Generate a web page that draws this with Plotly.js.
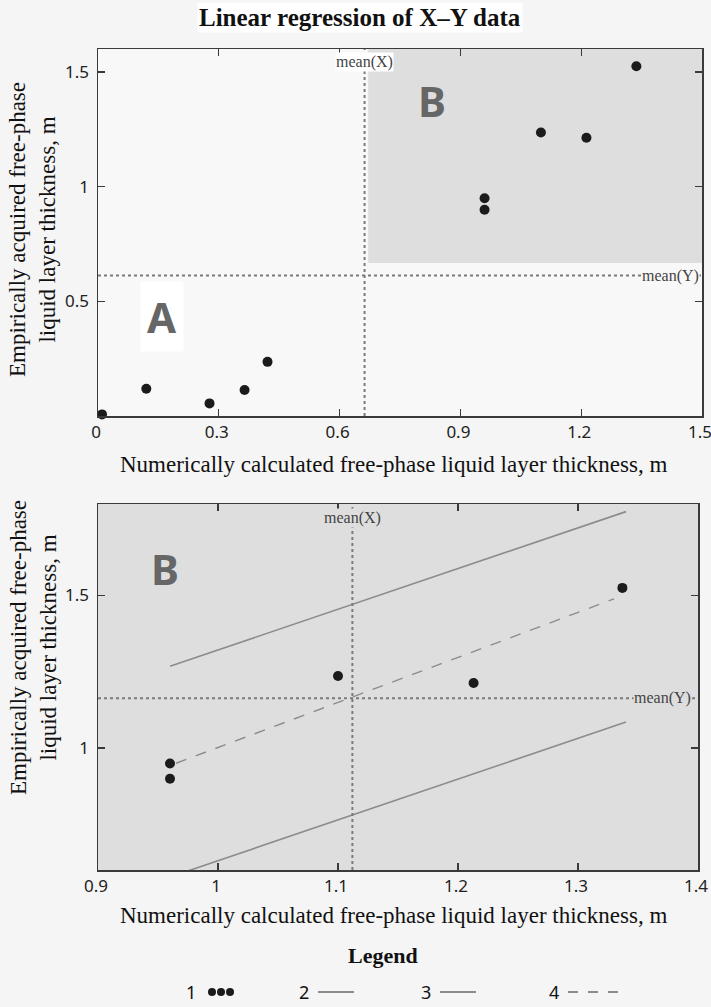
<!DOCTYPE html>
<html>
<head>
<meta charset="utf-8">
<script src="https://cdn.plot.ly/plotly-3.0.1.min.js"></script>
<style>html,body{margin:0;padding:0;background:#f5f5f5;}#chart{width:711px;height:1007px;}</style>
</head>
<body>
<div id="chart"></div>
<script>
// ---- Data ----
// Top panel: all observations
const allX = [0.01, 0.12, 0.277, 0.364, 0.421, 0.96, 0.96, 1.10, 1.213, 1.337];
const allY = [0.007, 0.119, 0.055, 0.113, 0.236, 0.949, 0.899, 1.236, 1.213, 1.525];
const topMeanX = 0.662;
const topMeanY = 0.612;
const regionBx = [0.671, 1.5];
const regionBy = [0.667, 1.6];

// Bottom panel: group B
const bX = [0.96, 0.96, 1.10, 1.213, 1.337];
const bY = [0.949, 0.899, 1.236, 1.213, 1.525];
const bMeanX = 1.112;
const bMeanY = 1.163;
const lineX = [0.96, 1.34];
const upperY = [1.268, 1.775];
const lowerY = [0.577, 1.085];
const fitX = [0.965, 1.33];
const fitY = [0.95, 1.489];

// Ticks
const topXTicks = [0, 0.3, 0.6, 0.9, 1.2, 1.5];
const topXLabels = ['0', '0.3', '0.6', '0.9', '1.2', '1.5'];
const topYTicks = [0.5, 1, 1.5];
const topYLabels = ['0.5', '1', '1.5'];
const botXTicks = [0.9, 1, 1.1, 1.2, 1.3, 1.4];
const botXLabels = ['0.9', '1', '1.1', '1.2', '1.3', '1.4'];
const botYTicks = [1, 1.5];
const botYLabels = ['1', '1.5'];

const titleText = 'Linear regression of X–Y data';
const xTitle = 'Numerically calculated free-phase liquid layer thickness, m';
const yTitle = 'Empirically acquired free-phase<br>liquid layer thickness, m';
const legendTitle = 'Legend';
const legendLabels = ['1', '2', '3', '4'];

// ---- Layout helpers ----
const W = 711, H = 1007;
const px = v => v / W;
const py = v => 1 - v / H;

const serif = 'Liberation Serif, Times New Roman, serif';
const sans = 'Noto Sans, Open Sans, sans-serif';
const lineGray = '#8c8c8c';
const dotCol = '#1b1b1b';

const traces = [
  {x: allX, y: allY, type: 'scatter', mode: 'markers', xaxis: 'x', yaxis: 'y',
   marker: {color: dotCol, size: 10}, cliponaxis: false, hoverinfo: 'x+y'},
  {x: lineX, y: upperY, type: 'scatter', mode: 'lines', xaxis: 'x2', yaxis: 'y2',
   line: {color: lineGray, width: 1.6}},
  {x: lineX, y: lowerY, type: 'scatter', mode: 'lines', xaxis: 'x2', yaxis: 'y2',
   line: {color: lineGray, width: 1.6}},
  {x: fitX, y: fitY, type: 'scatter', mode: 'lines', xaxis: 'x2', yaxis: 'y2',
   line: {color: lineGray, width: 1.4, dash: '11px,10px'}},
  {x: bX, y: bY, type: 'scatter', mode: 'markers', xaxis: 'x2', yaxis: 'y2',
   marker: {color: dotCol, size: 10}, cliponaxis: false}
];

const axisCommon = {
  showline: true, linecolor: '#3a3a3a', linewidth: 1.5, mirror: 'ticks',
  ticks: 'inside', ticklen: 7, tickwidth: 1.2, tickcolor: '#3a3a3a',
  showgrid: false, zeroline: false, ticklabeloverflow: 'allow',
  tickfont: {family: sans, size: 17, color: '#222'}
};

function ann(text, x, y, size, family, extra) {
  return Object.assign({text: text, xref: 'paper', yref: 'paper', x: x, y: y,
    xanchor: 'center', yanchor: 'middle', showarrow: false,
    font: {family: family, size: size, color: '#111'}}, extra || {});
}

const layout = {
  width: W, height: H,
  margin: {l: 0, r: 0, t: 0, b: 0},
  paper_bgcolor: '#f5f5f5',
  plot_bgcolor: '#f8f8f8',
  showlegend: false,
  xaxis: Object.assign({}, axisCommon, {domain: [px(98), px(702)], range: [0, 1.5],
    tickvals: topXTicks, ticktext: topXLabels, anchor: 'y', ticklabelshift: -2}),
  yaxis: Object.assign({}, axisCommon, {domain: [py(416), py(49)], range: [0, 1.6],
    tickvals: topYTicks, ticktext: topYLabels, anchor: 'x', ticklabelstandoff: 4}),
  xaxis2: Object.assign({}, axisCommon, {domain: [px(98), px(698)], range: [0.9, 1.4],
    tickvals: botXTicks, ticktext: botXLabels, anchor: 'y2', ticklabelshift: -2}),
  yaxis2: Object.assign({}, axisCommon, {domain: [py(870), py(504)], range: [0.6, 1.8],
    tickvals: botYTicks, ticktext: botYLabels, anchor: 'x2', ticklabelstandoff: 4}),
  shapes: [
    // bottom panel background
    {type: 'rect', xref: 'x2 domain', yref: 'y2 domain', x0: 0, x1: 1, y0: 0, y1: 1,
     fillcolor: '#dedede', line: {width: 0}, layer: 'below'},
    // region B in top panel
    {type: 'rect', xref: 'x', yref: 'y', x0: regionBx[0], x1: regionBx[1], y0: regionBy[0], y1: regionBy[1],
     fillcolor: '#dedede', line: {width: 0}, layer: 'below'},
    // mean lines top
    {type: 'line', xref: 'x', yref: 'y domain', x0: topMeanX, x1: topMeanX, y0: 0, y1: 1,
     line: {color: '#7a7a7a', width: 2, dash: '3px,3px'}},
    {type: 'line', xref: 'x domain', yref: 'y', x0: 0, x1: 1, y0: topMeanY, y1: topMeanY,
     line: {color: '#7a7a7a', width: 2, dash: '3px,3px'}},
    // mean lines bottom
    {type: 'line', xref: 'x2', yref: 'y2 domain', x0: bMeanX, x1: bMeanX, y0: 0, y1: 1,
     line: {color: '#7a7a7a', width: 2, dash: '3px,3px'}},
    {type: 'line', xref: 'x2 domain', yref: 'y2', x0: 0, x1: 1, y0: bMeanY, y1: bMeanY,
     line: {color: '#7a7a7a', width: 2, dash: '3px,3px'}},
    // legend symbols
    {type: 'circle', xref: 'paper', yref: 'paper', x0: px(208), x1: px(216), y0: py(996), y1: py(988),
     fillcolor: dotCol, line: {width: 0}},
    {type: 'circle', xref: 'paper', yref: 'paper', x0: px(217), x1: px(225), y0: py(996), y1: py(988),
     fillcolor: dotCol, line: {width: 0}},
    {type: 'circle', xref: 'paper', yref: 'paper', x0: px(226), x1: px(234), y0: py(996), y1: py(988),
     fillcolor: dotCol, line: {width: 0}},
    {type: 'line', xref: 'paper', yref: 'paper', x0: px(318), x1: px(354), y0: py(992), y1: py(992),
     line: {color: lineGray, width: 2}},
    {type: 'line', xref: 'paper', yref: 'paper', x0: px(440), x1: px(476), y0: py(992), y1: py(992),
     line: {color: lineGray, width: 2}},
    {type: 'line', xref: 'paper', yref: 'paper', x0: px(568), x1: px(628), y0: py(992), y1: py(992),
     line: {color: lineGray, width: 2, dash: '10px,10px'}}
  ],
  annotations: [
    ann('<b>' + titleText + '</b>', px(360), py(18), 25, serif, {bgcolor: '#ffffff'}),
    ann(xTitle, px(393), py(464), 23, serif),
    ann(xTitle, px(393), py(915), 23, serif),
    ann(yTitle, px(33), py(230), 23, serif, {textangle: -90}),
    ann(yTitle, px(33), py(648), 23, serif, {textangle: -90}),
    // mean labels
    {text: 'mean(X)', xref: 'x', yref: 'y domain', x: topMeanX, y: 0.965, xanchor: 'center', yanchor: 'middle',
     showarrow: false, font: {family: serif, size: 16, color: '#444'}, bgcolor: '#ffffff', borderpad: 0},
    {text: 'mean(Y)', xref: 'x domain', yref: 'y', x: 0.997, xanchor: 'right', y: topMeanY, yanchor: 'middle',
     showarrow: false, font: {family: serif, size: 16, color: '#444'}, bgcolor: '#f8f8f8', borderpad: 0},
    {text: 'mean(X)', xref: 'x2', yref: 'y2 domain', x: bMeanX, y: 0.962, xanchor: 'center', yanchor: 'middle',
     showarrow: false, font: {family: serif, size: 16, color: '#444'}, bgcolor: '#dedede', borderpad: 0},
    {text: 'mean(Y)', xref: 'x2 domain', yref: 'y2', x: 0.99, xanchor: 'right', y: bMeanY, yanchor: 'middle',
     showarrow: false, font: {family: serif, size: 16, color: '#444'}, bgcolor: '#dedede', borderpad: 0},
    // region labels
    ann('<b>A</b>', px(162), py(316), 42, sans, {font: {family: sans, size: 42, color: '#666'}, bgcolor: '#ffffff', borderpad: 6}),
    ann('<b>B</b>', px(432), py(100), 42, sans, {font: {family: sans, size: 42, color: '#666'}}),
    ann('<b>B</b>', px(165), py(568), 42, sans, {font: {family: sans, size: 42, color: '#666'}}),
    // legend
    ann('<b>' + legendTitle + '</b>', px(383), py(955), 22, serif),
    ann(legendLabels[0], px(198), py(992), 18, sans, {xanchor: 'right'}),
    ann(legendLabels[1], px(311), py(992), 18, sans, {xanchor: 'right'}),
    ann(legendLabels[2], px(433), py(992), 18, sans, {xanchor: 'right'}),
    ann(legendLabels[3], px(561), py(992), 18, sans, {xanchor: 'right'})
  ]
};

Plotly.newPlot('chart', traces, layout, {displayModeBar: false, staticPlot: true});
</script>
</body>
</html>
